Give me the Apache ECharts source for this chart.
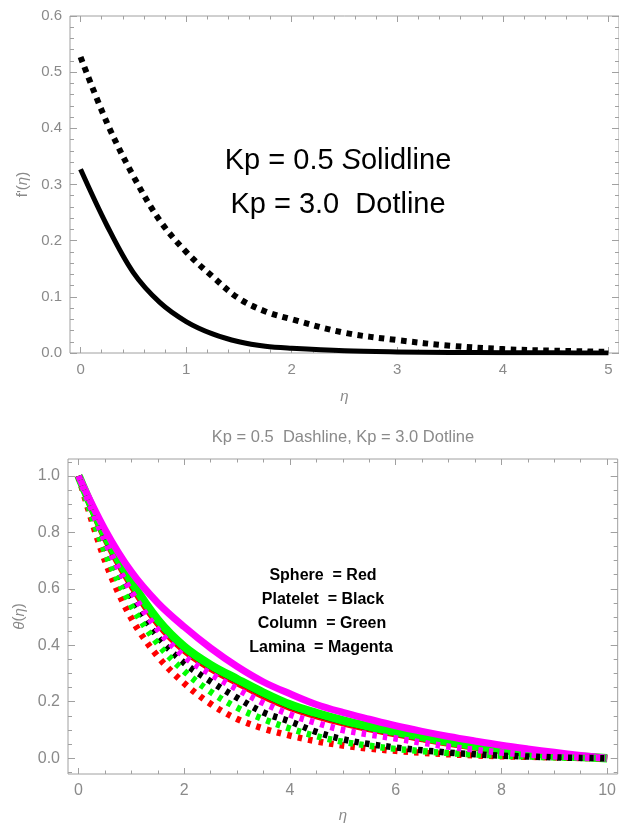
<!DOCTYPE html>
<html>
<head>
<meta charset="utf-8">
<script src="https://cdn.jsdelivr.net/npm/echarts@6/dist/echarts.min.js"></script>
<style>
  html, body { margin: 0; padding: 0; background: #fff; }
  #chart { width: 619px; height: 825px; }
</style>
</head>
<body>
<div id="chart"></div>
<script>
// ---- Velocity profile f'(η) ----
const etaVel = [0, 0.25, 0.5, 0.75, 1, 1.25, 1.5, 1.75, 2, 2.5, 3, 3.5, 4, 4.5, 5];
const velKp05 = [0.327, 0.227, 0.143, 0.090, 0.056, 0.034, 0.020, 0.012, 0.0085, 0.004, 0.002, 0.001, 0.0006, 0.0003, 0.0001];
const velKp30 = [0.527, 0.41, 0.315, 0.236, 0.18, 0.136, 0.097, 0.074, 0.06, 0.036, 0.023, 0.013, 0.007, 0.004, 0.002];

// ---- Temperature profile θ(η) ----
const etaTemp = [0, 0.5, 1, 1.5, 2, 2.5, 3, 3.5, 4, 4.5, 5, 5.5, 6, 6.5, 7, 7.5, 8, 8.5, 9, 9.5, 10];
// Kp = 0.5
const sphere05  = [1.0, 0.78, 0.612, 0.477, 0.382, 0.318, 0.268, 0.220, 0.180, 0.150, 0.125, 0.104, 0.086, 0.069, 0.053, 0.039, 0.027, 0.017, 0.009, 0.004, 0];
const platelet05 = [1.0, 0.787, 0.622, 0.487, 0.392, 0.327, 0.277, 0.229, 0.187, 0.157, 0.131, 0.109, 0.091, 0.073, 0.057, 0.042, 0.029, 0.018, 0.010, 0.0045, 0];
const column05  = [1.0, 0.79, 0.625, 0.49, 0.395, 0.33, 0.28, 0.232, 0.19, 0.16, 0.134, 0.112, 0.093, 0.075, 0.058, 0.043, 0.030, 0.019, 0.011, 0.005, 0];
const lamina05  = [1.0, 0.81, 0.66, 0.55, 0.465, 0.39, 0.325, 0.27, 0.228, 0.19, 0.162, 0.138, 0.115, 0.095, 0.077, 0.061, 0.046, 0.033, 0.021, 0.010, 0];
// Kp = 3.0
const sphere30  = [1.0, 0.70, 0.495, 0.36, 0.265, 0.192, 0.139, 0.105, 0.080, 0.060, 0.045, 0.034, 0.026, 0.019, 0.014, 0.010, 0.007, 0.005, 0.003, 0.001, 0];
const platelet30 = [1.0, 0.755, 0.57, 0.43, 0.337, 0.272, 0.214, 0.162, 0.130, 0.093, 0.067, 0.050, 0.038, 0.028, 0.020, 0.014, 0.009, 0.006, 0.003, 0.001, 0];
const column30  = [1.0, 0.73, 0.54, 0.405, 0.308, 0.235, 0.179, 0.138, 0.105, 0.078, 0.058, 0.044, 0.033, 0.025, 0.018, 0.013, 0.009, 0.006, 0.003, 0.001, 0];
const lamina30  = [1.0, 0.77, 0.59, 0.455, 0.36, 0.298, 0.245, 0.195, 0.155, 0.125, 0.100, 0.084, 0.070, 0.055, 0.041, 0.030, 0.020, 0.013, 0.007, 0.003, 0];

// ---- Tick labels ----
const velXTicks = [0, 1, 2, 3, 4, 5];
const velYTicks = [0, 0.1, 0.2, 0.3, 0.4, 0.5, 0.6];
const tempXTicks = [0, 2, 4, 6, 8, 10];
const tempYTicks = [0, 0.2, 0.4, 0.6, 0.8, 1.0];

const FRAME = '#a0a0a0';
const LABEL = '#8a8a8a';
const FONT = '"Liberation Sans", Arial, sans-serif';

function steps(from, to, step) {
  const out = [];
  for (let v = from; v <= to + 1e-9; v += step) out.push(+v.toFixed(4));
  return out;
}

// Four axes per side pair: labelled major, minor, mirrored major, mirrored minor
function frameAxes(gridIndex, isX, min, max, majors, minors, majorLen, minorLen, fmt, fontSize, extra) {
  const sides = isX ? ['bottom', 'top'] : ['left', 'right'];
  const axes = [];
  sides.forEach((pos, s) => {
    [true, false].forEach(isMajor => {
      const ax = {
        type: 'value', gridIndex, position: pos, min, max,
        axisLine: { show: false, onZero: false },
        splitLine: { show: false },
        axisTick: {
          show: true, inside: true,
          length: isMajor ? majorLen : minorLen,
          customValues: isMajor ? majors : minors,
          lineStyle: { color: FRAME, width: 1 }
        },
        axisLabel: { show: false }
      };
      if (isMajor && s === 0) {
        ax.axisLabel = {
          show: true, customValues: majors, formatter: fmt,
          color: LABEL, fontSize, fontFamily: FONT,
          margin: isX ? 9 : 8
        };
        Object.assign(ax, extra);
      }
      axes.push(ax);
    });
  });
  return axes;
}

const nameStyle = { color: LABEL, fontSize: 15, fontFamily: FONT };
const italic = { color: LABEL, fontSize: 15, fontFamily: FONT, fontStyle: 'italic' };

const xAxes = [
  ...frameAxes(0, true, -0.1, 5.1, velXTicks, steps(0, 5, 0.2), 6, 3.5, v => String(v), 15, {
    name: '{i|η}', nameLocation: 'middle', nameGap: 36,
    nameTextStyle: Object.assign({}, nameStyle, { rich: { i: italic } })
  }),
  ...frameAxes(1, true, -0.2, 10.2, tempXTicks, steps(0, 10, 0.5), 6, 3.5, v => String(v), 16, {
    name: '{i|η}', nameLocation: 'middle', nameGap: 34,
    nameTextStyle: Object.assign({}, nameStyle, { rich: { i: italic } })
  })
];
const yAxes = [
  ...frameAxes(0, false, 0, 0.6, velYTicks, steps(0, 0.6, 0.02), 7, 4, v => v.toFixed(1), 15, {
    name: "f'({i|η})", nameLocation: 'middle', nameGap: 39,
    nameTextStyle: Object.assign({}, nameStyle, { rich: { i: italic } })
  }),
  ...frameAxes(1, false, -0.056, 1.06, tempYTicks, steps(-0.05, 1.05, 0.05), 7, 4, v => v.toFixed(1), 16, {
    name: '{i|θ}({i|η})', nameLocation: 'middle', nameGap: 40,
    nameTextStyle: Object.assign({}, nameStyle, { rich: { i: italic } })
  })
];

function pairs(xs, ys) { return xs.map((x, i) => [x, ys[i]]); }

function curve(name, grid, xs, ys, color, width, dotted) {
  return {
    name, type: 'line',
    xAxisIndex: grid * 4, yAxisIndex: grid * 4,
    data: pairs(xs, ys),
    smooth: 0.35, showSymbol: false, symbol: 'none', clip: true,
    silent: true, animation: false,
    lineStyle: {
      color, width, cap: 'butt', join: 'round',
      type: dotted ? dotted : 'solid'
    }
  };
}

const RED = '#ff0000', BLACK = '#000000', GREEN = '#00ff00', MAGENTA = '#ff00ff';
const topDots = [5.5, 5.5];
const botDots = [4.5, 6.2];

const series = [
  curve('Kp = 0.5', 0, etaVel, velKp05, BLACK, 5, null),
  curve('Kp = 3.0', 0, etaVel, velKp30, BLACK, 6, topDots),

  curve('Sphere Kp = 0.5', 1, etaTemp, sphere05, RED, 7, null),
  curve('Platelet Kp = 0.5', 1, etaTemp, platelet05, BLACK, 7, null),
  curve('Column Kp = 0.5', 1, etaTemp, column05, GREEN, 8.5, null),
  curve('Lamina Kp = 0.5', 1, etaTemp, lamina05, MAGENTA, 7, null),

  curve('Sphere Kp = 3.0', 1, etaTemp, sphere30, RED, 6.5, botDots),
  curve('Platelet Kp = 3.0', 1, etaTemp, platelet30, BLACK, 6.5, botDots),
  curve('Column Kp = 3.0', 1, etaTemp, column30, GREEN, 6.5, botDots),
  curve('Lamina Kp = 3.0', 1, etaTemp, lamina30, MAGENTA, 6.5, botDots)
];

const bigText = { fill: '#000', fontSize: 29, fontFamily: FONT, textAlign: 'center', textVerticalAlign: 'middle' };
const legendText = { fill: '#000', fontSize: 16, fontWeight: 'bold', fontFamily: FONT, textAlign: 'center', textVerticalAlign: 'middle' };

const option = {
  backgroundColor: '#fff',
  animation: false,
  grid: [
    { left: 70, top: 16, width: 550, height: 337, show: true, borderColor: FRAME, borderWidth: 1, containLabel: false },
    { left: 68, top: 459, width: 554, height: 315, show: true, borderColor: FRAME, borderWidth: 1, containLabel: false }
  ],
  xAxis: xAxes,
  yAxis: yAxes,
  series,
  graphic: [
    { type: 'text', x: 338, y: 161, style: Object.assign({}, bigText, {
        text: 'Kp = 0.5 {i|S}olidline',
        rich: { i: { fontSize: 29, fontFamily: FONT, fontStyle: 'italic', fill: '#000' } }
      }) },
    { type: 'text', x: 338, y: 205, style: Object.assign({}, bigText, { text: 'Kp = 3.0  Dotline' }) },
    { type: 'text', x: 343, y: 437, style: { text: 'Kp = 0.5  Dashline, Kp = 3.0 Dotline', fill: LABEL, fontSize: 16.5, fontFamily: FONT, textAlign: 'center', textVerticalAlign: 'middle' } },
    { type: 'text', x: 323, y: 576, style: Object.assign({}, legendText, { text: 'Sphere  = Red' }) },
    { type: 'text', x: 323, y: 600, style: Object.assign({}, legendText, { text: 'Platelet  = Black' }) },
    { type: 'text', x: 322, y: 624, style: Object.assign({}, legendText, { text: 'Column  = Green' }) },
    { type: 'text', x: 321, y: 648, style: Object.assign({}, legendText, { text: 'Lamina  = Magenta' }) }
  ]
};

const chart = echarts.init(document.getElementById('chart'), null, { renderer: 'canvas' });
chart.setOption(option);
</script>
</body>
</html>
